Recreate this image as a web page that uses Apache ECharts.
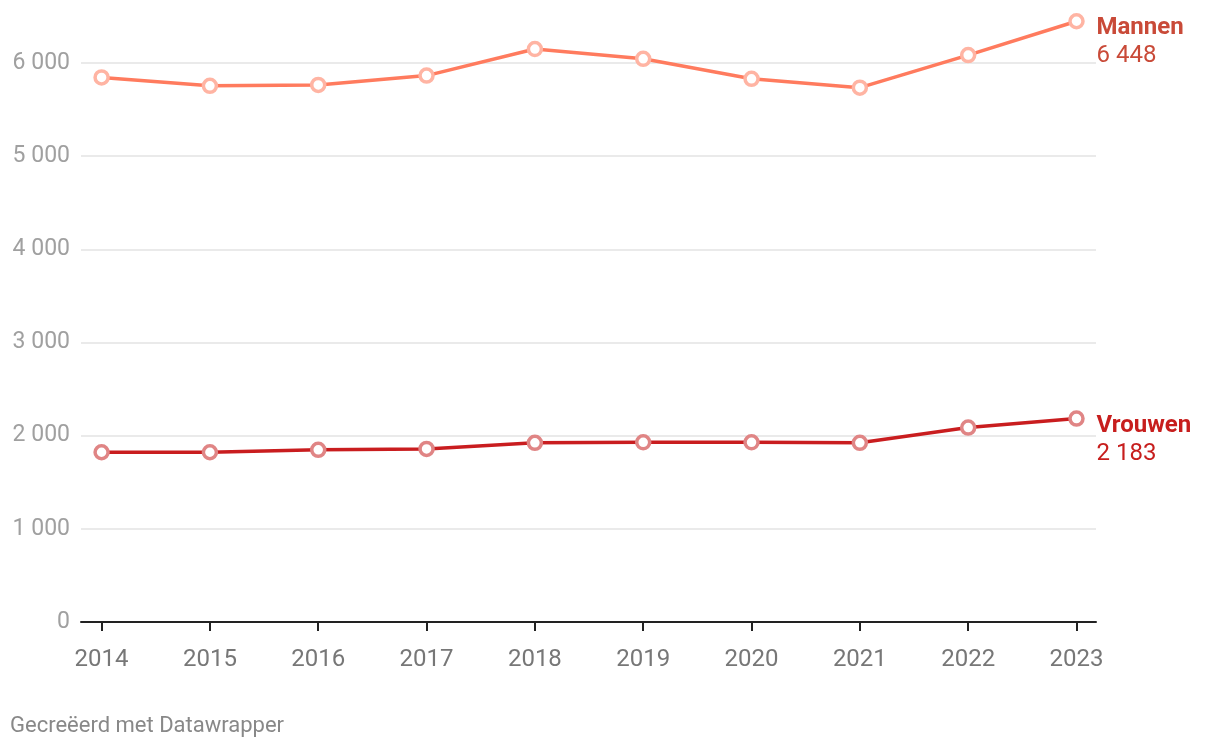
<!DOCTYPE html>
<html>
<head>
<meta charset="utf-8">
<script src="https://cdn.jsdelivr.net/npm/echarts@6/dist/echarts.min.js"></script>
<style>
html,body{margin:0;padding:0;background:#fff;}
#chart{width:1220px;height:748px;}
</style>
</head>
<body>
<div id="chart"></div>
<script>
const years = [2014, 2015, 2016, 2017, 2018, 2019, 2020, 2021, 2022, 2023];
const mannen = [5845, 5755, 5765, 5865, 6150, 6045, 5830, 5735, 6085, 6448];
const vrouwen = [1822, 1822, 1848, 1858, 1923, 1929, 1929, 1923, 2087, 2183];
const yTicks = [0, 1000, 2000, 3000, 4000, 5000, 6000];
const seriesNames = ['Mannen', 'Vrouwen'];
const footer = 'Gecreëerd met Datawrapper';

const fmt = v => String(Math.round(v)).replace(/\B(?=(\d{3})+(?!\d))/g, ' ');
const FONT = 'Roboto, "Noto Sans", sans-serif';

function mkSeries(name, data, lineColor, markColor, labelColor) {
  return {
    name: name,
    type: 'line',
    data: years.map((y, i) => [y, data[i]]),
    clip: false,
    symbol: 'circle',
    symbolSize: 13,
    showSymbol: true,
    lineStyle: { color: lineColor, width: 3.5 },
    itemStyle: { color: '#fff', borderColor: markColor, borderWidth: 3.5 },
    z: 3,
    endLabel: {
      show: true,
      distance: 20,
      offset: [0, 21],
      formatter: p => '{a|' + name + '}\n{b|' + fmt(p.value[1]) + '}',
      rich: {
        a: { fontFamily: FONT, fontSize: 24, fontWeight: 'bold', color: labelColor, lineHeight: 28 },
        b: { fontFamily: FONT, fontSize: 24, color: labelColor, lineHeight: 28 }
      }
    },
    emphasis: { disabled: true },
    animation: false
  };
}

const chart = echarts.init(document.getElementById('chart'), null, { renderer: 'canvas' });
chart.setOption({
  animation: false,
  grid: { left: 81, right: 124, top: 63, bottom: 126, containLabel: false },
  xAxis: {
    type: 'value',
    min: 2013.81,
    max: 2023.18,
    axisLine: { show: true, lineStyle: { color: '#222', width: 2 } },
    axisTick: { show: true, customValues: years, length: 9, lineStyle: { color: '#222', width: 2 } },
    axisLabel: {
      customValues: years,
      formatter: v => String(Math.round(v)),
      color: '#777', fontFamily: FONT, fontSize: 24, margin: 26
    },
    splitLine: { show: false }
  },
  yAxis: {
    type: 'value',
    min: 0,
    max: 6000,
    interval: 1000,
    axisLine: { show: false },
    axisTick: { show: false },
    axisLabel: {
      customValues: yTicks,
      formatter: v => fmt(v),
      color: '#a0a0a0', fontFamily: FONT, fontSize: 23, margin: 11
    },
    splitLine: { show: true, lineStyle: { color: '#e3e3e3', width: 1.5 } }
  },
  series: [
    mkSeries(seriesNames[0], mannen, '#ff7b5e', '#ffb4a3', '#c94a38'),
    mkSeries(seriesNames[1], vrouwen, '#c91d1f', '#e08585', '#c71e1d')
  ],
  graphic: [{
    type: 'text',
    left: 10,
    top: 715,
    style: { text: footer, fontFamily: FONT, fontSize: 22, fill: '#888' }
  }]
});
</script>
</body>
</html>
